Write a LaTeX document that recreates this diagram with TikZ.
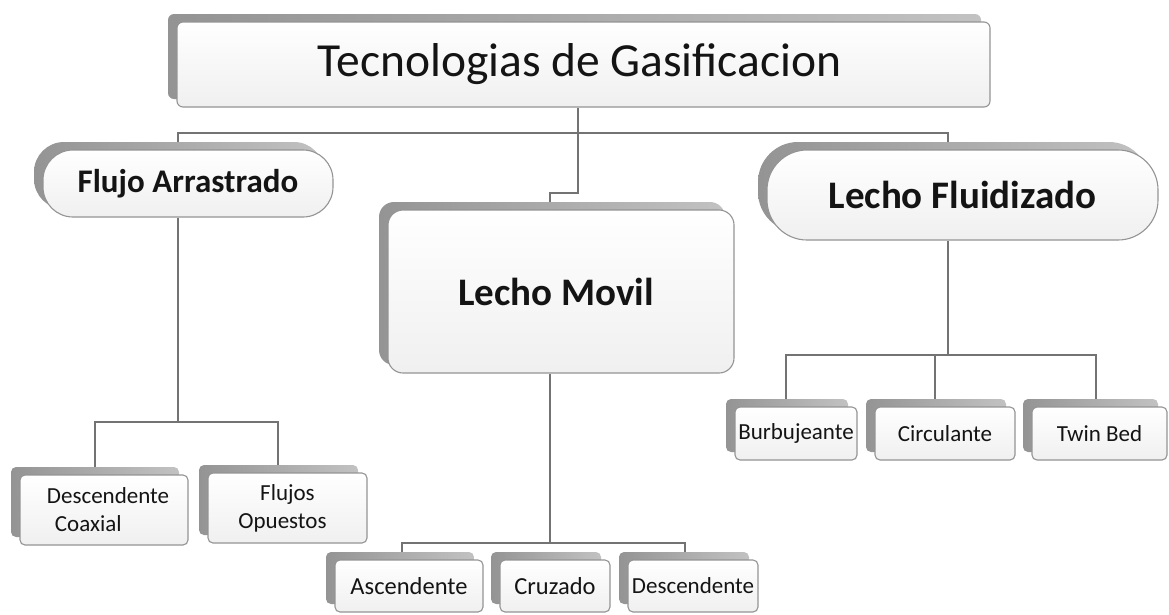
\documentclass[tikz,border=0pt]{standalone}
\usepackage{fontspec}
\setmainfont{Carlito}
\usetikzlibrary{shadows,backgrounds}
\begin{document}
\begin{tikzpicture}[x=1pt,y=-1pt,
  box/.style={draw=black!42, line width=1.1pt, top color=white, bottom color=black!6,
    inner sep=0pt, text=black!92,
    general shadow={left color=black!42, right color=black!24, shadow xshift=-9pt, shadow yshift=8pt}},
  small/.style={box, rounded corners=5pt, font=\fontsize{23}{28}\selectfont},
  big/.style={box, font=\bfseries\fontsize{39}{44}\selectfont},
  conn/.style={draw=black!55, line width=2.6pt}]
\useasboundingbox (0,0) rectangle (1169,614);

% main boxes
\node[box, rounded corners=6pt, minimum width=813pt, minimum height=85pt,
  font=\fontsize{47.5}{52}\selectfont] (top) at (583.5,64.5) {Tecnologias de Gasificacion\hspace*{8pt}};
\node[big, rounded corners=30pt, minimum width=290pt, minimum height=67pt,
  font=\bfseries\fontsize{33}{37}\selectfont] (flujo) at (188,183.5) {Flujo Arrastrado};
\node[big, rounded corners=15pt, minimum width=346pt, minimum height=163pt] (movil) at (561,291.5) {Lecho Movil\hspace*{10pt}};
\node[big, rounded corners=40pt, minimum width=391pt, minimum height=90pt] (fluid) at (962.5,195) {Lecho Fluidizado};

% children
\node[small, minimum width=168pt, minimum height=70pt, align=left] (coax) at (104,510) {\hspace*{8pt}Descendente\\\hspace*{16pt}Coaxial};
\node[small, minimum width=159pt, minimum height=70pt, align=center] (opues) at (287.5,508) {Flujos\\Opuestos\hspace*{10pt}};
\node[small, minimum width=148pt, minimum height=52pt, font=\fontsize{24.5}{28}\selectfont] (asc) at (409,586) {Ascendente};
\node[small, minimum width=110pt, minimum height=52pt, font=\fontsize{24.5}{28}\selectfont] (cruz) at (555,586) {Cruzado};
\node[small, minimum width=130pt, minimum height=52pt] (desc) at (693,586) {Descendente};
\node[small, minimum width=122pt, minimum height=53pt] (burb) at (796,433.5) {Burbujeante};
\node[small, minimum width=140pt, minimum height=53pt] (circ) at (945,433.5) {Circulante};
\node[small, minimum width=135pt, minimum height=53pt] (twin) at (1099.5,433.5) {Twin Bed};

% junction coordinates
\coordinate (j0) at (578,133);
\coordinate (jL) at (178,133);
\coordinate (jR) at (948,133);
\coordinate (jM1) at (578,193);
\coordinate (jM2) at (550,193);
\coordinate (jF) at (178,422);
\coordinate (jFa) at (95,422);
\coordinate (jFb) at (278,422);
\coordinate (jV) at (550,543);
\coordinate (jVa) at (402,543);
\coordinate (jVb) at (685,543);
\coordinate (jZ) at (948,355);
\coordinate (jZa) at (786,355);
\coordinate (jZb) at (935,355);
\coordinate (jZc) at (1096,355);

\begin{pgfonlayer}{background}
\draw[conn] (j0 |- top.south) -- (j0);
\draw[conn] (jL |- flujo.north) -- (jL) -- (jR) -- (jR |- fluid.north);
\draw[conn] (j0) -- (jM1) -- (jM2) -- (jM2 |- movil.north);
\draw[conn] (jF |- flujo.south) -- (jF);
\draw[conn] (jFa |- coax.north) -- (jFa) -- (jFb) -- (jFb |- opues.north);
\draw[conn] (jV |- movil.south) -- (jV);
\draw[conn] (jVa |- asc.north) -- (jVa) -- (jVb) -- (jVb |- desc.north);
\draw[conn] (jZ |- fluid.south) -- (jZ);
\draw[conn] (jZa |- burb.north) -- (jZa) -- (jZc) -- (jZc |- twin.north);
\draw[conn] (jZb) -- (jZb |- circ.north);
\end{pgfonlayer}
\end{tikzpicture}
\end{document}
